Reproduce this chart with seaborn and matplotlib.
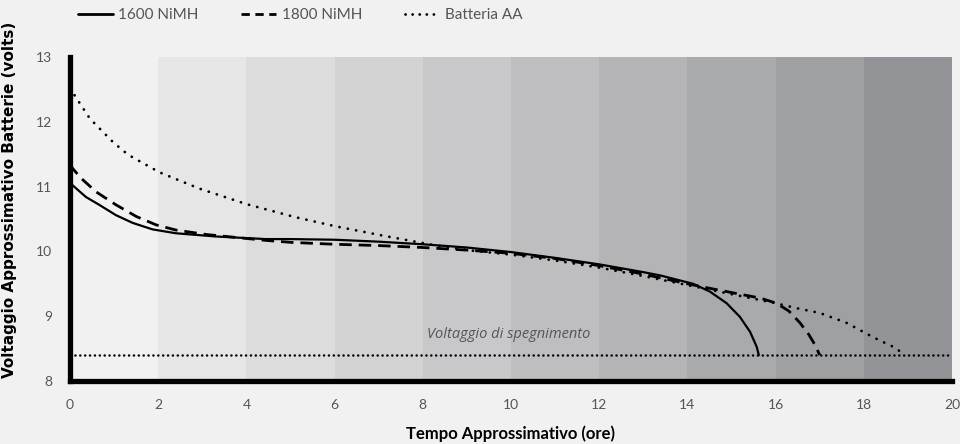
import matplotlib
matplotlib.use("Agg")
import matplotlib.pyplot as plt
from matplotlib.lines import Line2D
import seaborn as sns
import pandas as pd

# Discharge curves: time (hours) and approximate pack voltage (volts)
t_1600 = [0, 0.06, 0.36, 0.66, 1.04, 1.42, 1.87, 2.4, 3.31, 4.44, 5, 6, 7,
          8, 9, 10, 11, 12, 13, 13.38, 14.13, 14.51, 14.89, 15.19, 15.42,
          15.57, 15.62]
v_1600 = [11.05, 11.02, 10.84, 10.72, 10.56, 10.44, 10.34, 10.28, 10.23,
          10.19, 10.19, 10.18, 10.15, 10.11, 10.06, 9.99, 9.9, 9.8, 9.68,
          9.63, 9.5, 9.38, 9.2, 8.99, 8.76, 8.53, 8.4]

t_1800 = [0, 0.06, 0.25, 0.59, 1.04, 1.5, 1.95, 2.4, 3.1, 4.44, 5, 6, 7, 8,
          9, 10, 11, 12, 13, 14, 14.51, 15.19, 15.65, 16.02, 16.3, 16.55,
          16.75, 16.9, 17.0]
v_1800 = [11.35, 11.28, 11.13, 10.92, 10.72, 10.54, 10.41, 10.33, 10.26,
          10.17, 10.14, 10.11, 10.09, 10.06, 10.02, 9.97, 9.89, 9.78, 9.65,
          9.5, 9.43, 9.34, 9.28, 9.2, 9.08, 8.9, 8.72, 8.55, 8.4]

t_aa = [0, 0.15, 0.45, 0.97, 1.23, 1.4, 2.03, 2.93, 4, 5.1, 6, 7.12, 8.23,
        9, 10, 11, 12, 13, 14, 15, 16, 16.5, 17, 17.6, 18.2, 18.75, 18.9]
v_aa = [12.52, 12.36, 12.05, 11.69, 11.54, 11.46, 11.22, 10.97, 10.73,
        10.53, 10.39, 10.24, 10.1, 10.02, 9.95, 9.86, 9.75, 9.62, 9.48,
        9.34, 9.2, 9.12, 9.05, 8.9, 8.68, 8.5, 8.4]

cutoff_voltage = 8.4
cutoff_label = "Voltaggio di spegnimento"
series_labels = ["1600 NiMH", "1800 NiMH", "Batteria AA"]
x_ticks = [0, 2, 4, 6, 8, 10, 12, 14, 16, 18, 20]
y_ticks = [8, 9, 10, 11, 12, 13]

bg = "#f1f1f1"
band_colors = ["#f1f1f1", "#e6e6e7", "#dcdcdd", "#d2d2d3", "#c8c8ca",
               "#bebec0", "#b4b4b6", "#a9aaac", "#9fa0a2", "#939497"]

sns.set_theme(style="white", rc={"figure.facecolor": bg, "axes.facecolor": bg})
plt.rcParams["font.family"] = ["Lato", "DejaVu Sans"]

fig = plt.figure(figsize=(9.6, 4.44), dpi=100)
ax = fig.add_axes([70 / 960, 1 - 381 / 444, 882 / 960, 324 / 444])

# shaded two-hour bands
for left, right, c in zip(x_ticks[:-1], x_ticks[1:], band_colors):
    ax.axvspan(left, right, color=c, lw=0, zorder=0)

frames = {
    series_labels[0]: pd.DataFrame({"ore": t_1600, "volt": v_1600}),
    series_labels[1]: pd.DataFrame({"ore": t_1800, "volt": v_1800}),
    series_labels[2]: pd.DataFrame({"ore": t_aa, "volt": v_aa}),
}

sns.lineplot(data=frames[series_labels[0]], x="ore", y="volt", ax=ax,
             color="black", lw=1.6, sort=False, zorder=3)
sns.lineplot(data=frames[series_labels[1]], x="ore", y="volt", ax=ax,
             color="black", lw=2.0, sort=False, zorder=3,
             dashes=False, linestyle=(0, (4.5, 2.5)))
sns.lineplot(data=frames[series_labels[2]], x="ore", y="volt", ax=ax,
             color="black", lw=2.0, sort=False, zorder=3,
             linestyle=(0, (0.05, 3.0)), dash_capstyle="round")

ax.axhline(cutoff_voltage, color="black", lw=1.8,
           linestyle=(0, (0.05, 1.9)), dash_capstyle="round", zorder=2)
ax.text(8.1, cutoff_voltage + 0.2, cutoff_label, style="italic",
        fontsize=10.5, color="#555555", ha="left", va="bottom",
        family=["Open Sans", "DejaVu Sans"], zorder=4)

ax.set_xlim(0, 20)
ax.set_ylim(8, 13)
ax.set_xticks(x_ticks)
ax.set_yticks(y_ticks)
ax.tick_params(axis="both", length=0, labelsize=10, labelcolor="#555555")
ax.tick_params(axis="x", pad=13)
ax.tick_params(axis="y", pad=13)

for side in ["top", "right"]:
    ax.spines[side].set_visible(False)
for side in ["left", "bottom"]:
    ax.spines[side].set_linewidth(3.8)
    ax.spines[side].set_color("black")
    ax.spines[side].set_capstyle("projecting")
    ax.spines[side].set_zorder(5)

ax.set_xlabel("Tempo Approssimativo (ore)", fontsize=12, fontweight="bold",
              color="black", labelpad=10)
ax.set_ylabel("Voltaggio Approssimativo Batterie (volts)", fontsize=11,
              fontweight="bold", color="black",
              family=["DejaVu Sans"])
ax.yaxis.set_label_coords(-0.06, 0.56)

handles = [
    Line2D([], [], color="black", lw=2.0),
    Line2D([], [], color="black", lw=2.0, linestyle=(0, (3, 2))),
    Line2D([], [], color="black", lw=2.0, linestyle=(0, (0.05, 2.5)),
           dash_capstyle="round"),
]
leg = fig.legend(handles, series_labels, loc="center left",
                 bbox_to_anchor=(78 / 960, 1 - 15 / 444), ncol=3,
                 frameon=False, fontsize=11, handlelength=2.3,
                 handletextpad=0.33, columnspacing=2.8, borderaxespad=0,
                 borderpad=0)
for txt in leg.get_texts():
    txt.set_color("#555555")

fig.savefig("out.png", dpi=100, facecolor=bg)
